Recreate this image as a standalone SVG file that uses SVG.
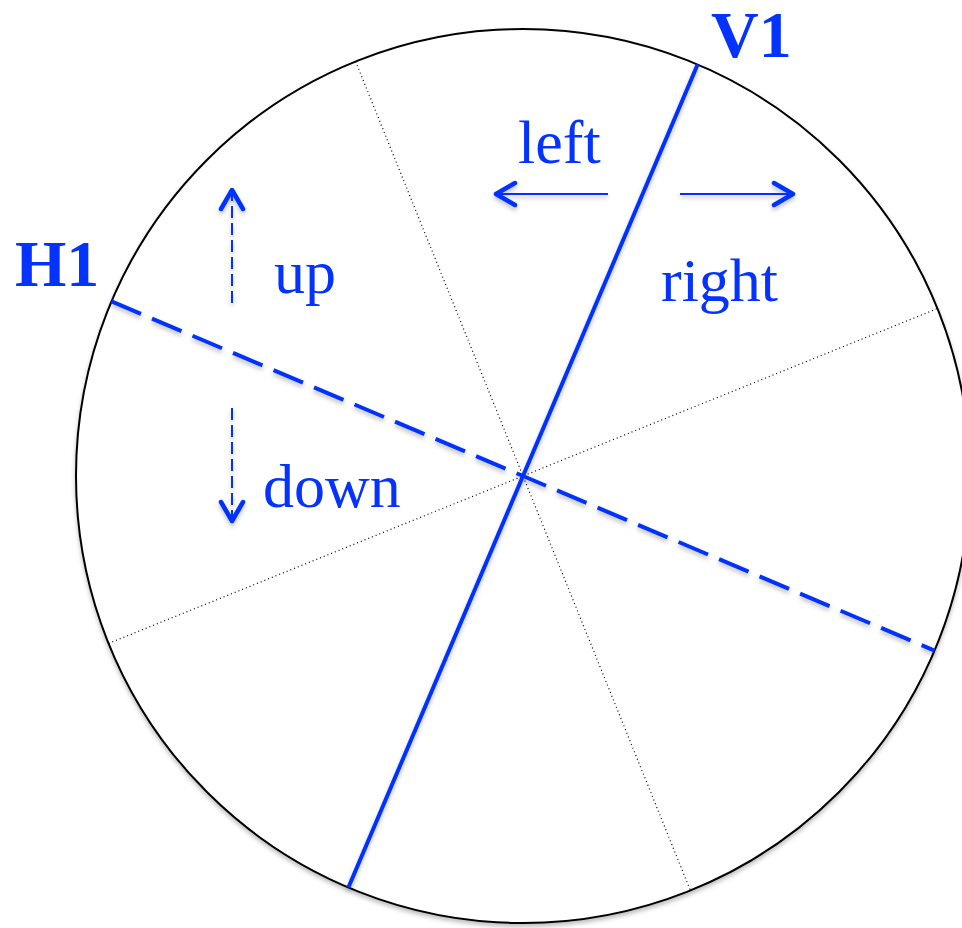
<svg xmlns="http://www.w3.org/2000/svg" width="962" height="928" viewBox="0 0 962 928">
  <style>
    .lbl { font-family: "Liberation Serif", "Times New Roman", serif; font-size: 62px; fill: #0433ff; }
    .bold { font-weight: bold; font-size: 66px; }
    .dot { stroke: #000; stroke-width: 1.2; stroke-dasharray: 1 3; fill: none; }
    .blue { stroke: #0433ff; fill: none; }
  </style>
  <defs>
    <filter id="sh" x="-10%" y="-10%" width="120%" height="120%">
      <feDropShadow dx="0" dy="3" stdDeviation="2" flood-color="#000" flood-opacity="0.25"/>
    </filter>
    <marker id="head" viewBox="-24 -14 28 28" refX="0" refY="0" markerWidth="28" markerHeight="28" markerUnits="userSpaceOnUse" orient="auto">
      <path d="M-19,-11 L0,0 L-19,11" fill="none" stroke="#0433ff" stroke-width="4.5" stroke-linecap="round" stroke-linejoin="round" stroke-dasharray="none"/>
    </marker>
  </defs>
  <rect width="962" height="928" fill="#fff"/>
  <g id="disc" filter="url(#sh)">
    <circle cx="523" cy="476" r="447" fill="#fff" stroke="#000" stroke-width="2"/>
  </g>
  <g id="dividers">
    <line class="dot" x1="355.6" y1="61.5" x2="690.4" y2="890.5"/>
    <line class="dot" x1="108.6" y1="643.4" x2="937.4" y2="308.6"/>
  </g>
  <g id="axes" filter="url(#sh)">
    <line id="V1-line" class="blue" stroke-width="4" x1="697.6" y1="64.5" x2="348.4" y2="887.5"/>
    <line id="H1-line" class="blue" stroke-width="4" stroke-dasharray="32 12" x1="111.5" y1="301.4" x2="934.5" y2="650.6"/>
  </g>
  <g id="arrows" filter="url(#sh)">
    <line id="arrow-up" class="blue" stroke-width="2" stroke-dasharray="12 5" x1="232" y1="303" x2="232" y2="190" marker-end="url(#head)"/>
    <line id="arrow-down" class="blue" stroke-width="2" stroke-dasharray="12 5" x1="232" y1="408" x2="232" y2="521" marker-end="url(#head)"/>
    <line id="arrow-left" class="blue" stroke-width="2" x1="608" y1="194" x2="496" y2="194" marker-end="url(#head)"/>
    <line id="arrow-right" class="blue" stroke-width="2" x1="680" y1="194" x2="793" y2="194" marker-end="url(#head)"/>
  </g>
  <g id="labels">
    <text class="lbl bold" x="711" y="57">V1</text>
    <text class="lbl bold" x="15" y="286">H1</text>
    <text class="lbl" x="518" y="163">left</text>
    <text class="lbl" x="661" y="301">right</text>
    <text class="lbl" x="274" y="293">up</text>
    <text class="lbl" x="263" y="507">down</text>
  </g>
</svg>
